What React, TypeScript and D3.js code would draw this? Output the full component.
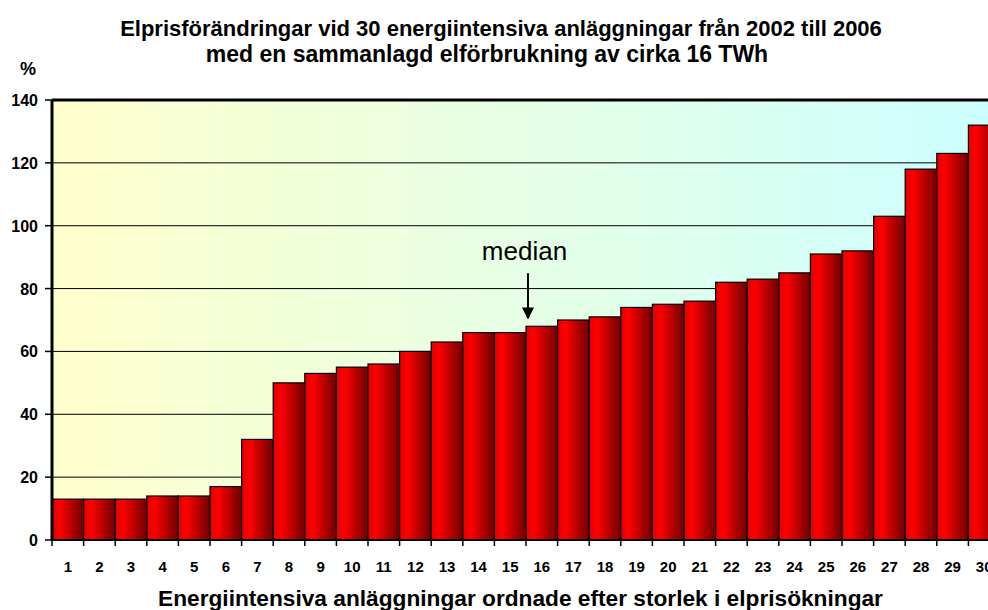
import { useEffect, useRef } from 'react';
import * as d3 from 'd3';

const categories = Array.from({ length: 30 }, (_, i) => String(i + 1));
const values = [13, 13, 13, 14, 14, 17, 32, 50, 53, 55, 56, 60, 63, 66, 66, 68, 70, 71, 74, 75, 76, 82, 83, 85, 91, 92, 103, 118, 123, 132];
const yTicks = [0, 20, 40, 60, 80, 100, 120, 140];
const titleLines = [
  'Elprisförändringar vid 30 energiintensiva anläggningar från 2002 till 2006',
  'med en sammanlagd elförbrukning av cirka 16 TWh',
];
const xTitle = 'Energiintensiva anläggningar ordnade efter storlek i elprisökningar';
const medianIndex = '16';

export default function App() {
  const svgRef = useRef<SVGSVGElement>(null);
  const W = 988;
  const H = 610;

  useEffect(() => {
    document.body.style.margin = '0';
    if (!svgRef.current) return;
    const svg = d3.select(svgRef.current);
    svg.selectAll('*').remove();

    const left = 52, top = 100, bottom = 540, bandW = 31.6;
    const x = d3.scaleBand<string>().domain(categories).range([left, left + bandW * categories.length]).padding(0);
    const y = d3.scaleLinear([0, 140], [bottom, top]);
    const font = 'Liberation Sans, Arial, sans-serif';

    const defs = svg.append('defs');
    const bg = defs.append('linearGradient').attr('id', 'bg').attr('x1', 0).attr('x2', 1).attr('y1', 0).attr('y2', 0);
    bg.append('stop').attr('offset', '0%').attr('stop-color', '#ffffcc');
    bg.append('stop').attr('offset', '100%').attr('stop-color', '#ccffff');
    const bar = defs.append('linearGradient').attr('id', 'bar').attr('x1', 0).attr('x2', 1).attr('y1', 0).attr('y2', 0);
    bar.append('stop').attr('offset', '0%').attr('stop-color', '#e00000');
    bar.append('stop').attr('offset', '25%').attr('stop-color', '#ff0000');
    bar.append('stop').attr('offset', '100%').attr('stop-color', '#6e0000');
    defs.append('marker').attr('id', 'arrow').attr('viewBox', '0 0 10 10').attr('refX', 9).attr('refY', 5)
      .attr('markerWidth', 6).attr('markerHeight', 6).attr('orient', 'auto')
      .append('path').attr('d', 'M0,0 L10,5 L0,10 z').attr('fill', '#000');

    const right = left + bandW * categories.length;
    svg.append('rect').attr('x', left).attr('y', top).attr('width', right - left).attr('height', bottom - top).attr('fill', 'url(#bg)');

    // Grid
    svg.selectAll('.grid').data(yTicks.filter(t => t > 0 && t < 140)).join('line')
      .attr('x1', left).attr('x2', right).attr('y1', d => y(d)).attr('y2', d => y(d))
      .attr('stroke', '#000').attr('stroke-width', 1);

    // Bars
    svg.selectAll('.bar').data(values).join('rect')
      .attr('x', (_, i) => x(categories[i])!).attr('y', d => y(d))
      .attr('width', x.bandwidth()).attr('height', d => bottom - y(d))
      .attr('fill', 'url(#bar)').attr('stroke', '#000').attr('stroke-width', 1.2);

    // Frame
    svg.append('line').attr('x1', left).attr('x2', right).attr('y1', top).attr('y2', top).attr('stroke', '#000').attr('stroke-width', 3);
    svg.append('line').attr('x1', left).attr('x2', left).attr('y1', top).attr('y2', bottom).attr('stroke', '#000').attr('stroke-width', 3);
    svg.append('line').attr('x1', left).attr('x2', right).attr('y1', bottom).attr('y2', bottom).attr('stroke', '#000').attr('stroke-width', 2);

    // Y ticks
    svg.selectAll('.yt').data(yTicks).join('line')
      .attr('x1', left - 7).attr('x2', left).attr('y1', d => y(d)).attr('y2', d => y(d)).attr('stroke', '#000').attr('stroke-width', 1.5);
    svg.selectAll('.yl').data(yTicks).join('text')
      .attr('x', 38).attr('y', d => y(d) + 6).attr('text-anchor', 'end')
      .attr('font-family', font).attr('font-weight', 'bold').attr('font-size', 16).text(d => d);

    // X ticks
    svg.selectAll('.xt').data(categories).join('line')
      .attr('x1', d => x(d)!).attr('x2', d => x(d)!).attr('y1', bottom).attr('y2', bottom + 6).attr('stroke', '#000').attr('stroke-width', 1.5);
    svg.selectAll('.xl').data(categories).join('text')
      .attr('x', d => x(d)! + x.bandwidth() / 2).attr('y', 572).attr('text-anchor', 'middle')
      .attr('font-family', font).attr('font-weight', 'bold').attr('font-size', 15).text(d => d);

    // Titles
    titleLines.forEach((t, i) => {
      svg.append('text').attr('x', i === 0 ? 501 : 487).attr('y', 36 + i * 26).attr('text-anchor', 'middle')
        .attr('font-family', font).attr('font-weight', 'bold').attr('font-size', i === 0 ? 22 : 23).text(t);
    });
    svg.append('text').attr('x', 20).attr('y', 75).attr('font-family', font).attr('font-weight', 'bold').attr('font-size', 18).text('%');
    svg.append('text').attr('x', 520.5).attr('y', 606).attr('text-anchor', 'middle')
      .attr('font-family', font).attr('font-weight', 'bold').attr('font-size', 22.7).text(xTitle);

    // Median annotation
    const mx = x(medianIndex)! + 2;
    const my = y(values[categories.indexOf(medianIndex)]);
    svg.append('text').attr('x', mx - 3.5).attr('y', my - 66).attr('text-anchor', 'middle')
      .attr('font-family', font).attr('font-size', 26).text('median');
    svg.append('line').attr('x1', mx).attr('x2', mx).attr('y1', my - 53).attr('y2', my - 8)
      .attr('stroke', '#000').attr('stroke-width', 2).attr('marker-end', 'url(#arrow)');
  }, []);

  return <svg ref={svgRef} width={W} height={H} style={{ display: 'block', background: '#fff' }} />;
}
